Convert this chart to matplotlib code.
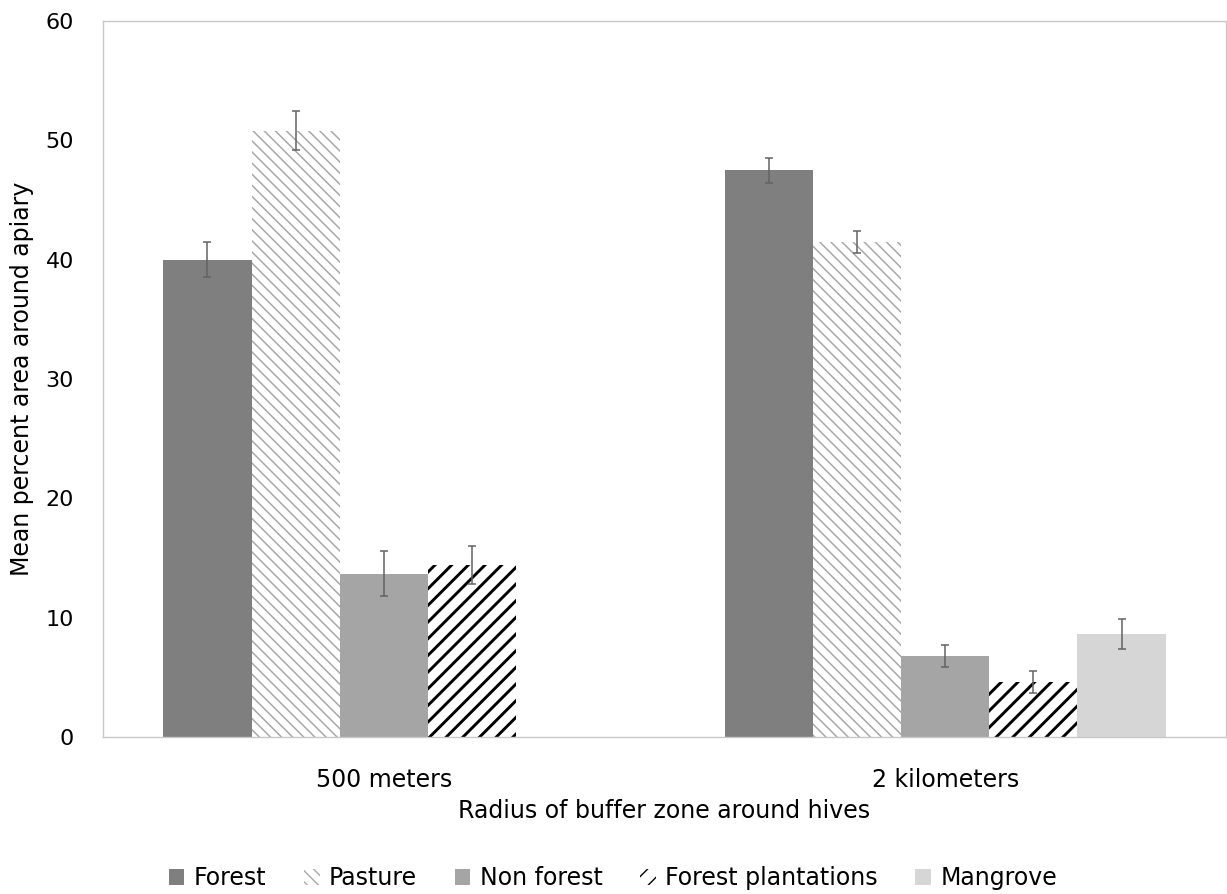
import numpy as np
import matplotlib
matplotlib.use("Agg")
import matplotlib.pyplot as plt
from matplotlib.patches import Patch

# mean percent land cover around apiaries, with error bars
radii = ["500 meters", "2 kilometers"]
classes = ["Forest", "Pasture", "Non forest", "Forest plantations", "Mangrove"]
means = {
    "Forest": [40.0, 47.5],
    "Pasture": [50.8, 41.5],
    "Non forest": [13.7, 6.8],
    "Forest plantations": [14.4, 4.6],
    "Mangrove": [np.nan, 8.6],
}
errors = {
    "Forest": [1.45, 1.05],
    "Pasture": [1.65, 0.9],
    "Non forest": [1.9, 0.9],
    "Forest plantations": [1.6, 0.9],
    "Mangrove": [np.nan, 1.25],
}

# fill colour, hatch, hatch colour, hatch line width (pt)
styles = {
    "Forest": ("#7f7f7f", "", "#7f7f7f", 1.0),
    "Pasture": ("white", "\\\\\\", "#a8a8a8", 1.1),
    "Non forest": ("#a5a5a5", "", "#a5a5a5", 1.0),
    "Forest plantations": ("white", "//", "black", 2.1),
    "Mangrove": ("#d6d6d6", "", "#d6d6d6", 1.0),
}

font = "DejaVu Sans"
label_size = 17
tick_size = 16

fig = plt.figure(figsize=(12.27, 8.94), dpi=100)
ax = fig.add_axes([103 / 1227, 1 - 737 / 894, (1226 - 103) / 1227, (737 - 21) / 894])

x = np.arange(len(radii))
width = 0.157
n = len(classes)
handles = []
for i, name in enumerate(classes):
    face, hatch, hcol, hlw = styles[name]
    pos = x + (i - (n - 1) / 2) * width
    vals = np.array(means[name], dtype=float)
    errs = np.array(errors[name], dtype=float)
    with plt.rc_context({"hatch.linewidth": hlw}):
        bars = ax.bar(pos, np.nan_to_num(vals), width, color=face, hatch=hatch,
                      edgecolor=hcol, linewidth=0, zorder=2)
        for b in bars:
            if hasattr(b, "set_hatch_linewidth"):
                b.set_hatch_linewidth(hlw)
        ax.errorbar(pos, vals, yerr=errs, fmt="none", ecolor="#636363",
                    elinewidth=1.1, capsize=3.2, capthick=1.1, zorder=3)
        h = Patch(facecolor=face, hatch=hatch, edgecolor=hcol, linewidth=0, label=name)
        if hasattr(h, "set_hatch_linewidth"):
            h.set_hatch_linewidth(hlw)
    handles.append(h)

ax.set_xlim(-0.5, 1.5)
ax.set_ylim(0, 60)
ax.set_yticks(range(0, 61, 10))
ax.set_xticks(x)
ax.set_xticklabels(radii, fontfamily=font, fontsize=label_size)
for lab in ax.get_yticklabels():
    lab.set_fontfamily(font)
    lab.set_fontsize(tick_size)
ax.tick_params(length=0)
ax.tick_params(axis="x", pad=22)
ax.tick_params(axis="y", pad=21)
for sp in ax.spines.values():
    sp.set_color("#c8c8c8")
    sp.set_linewidth(1.0)

ax.set_xlabel("Radius of buffer zone around hives", fontfamily=font,
              fontsize=label_size, labelpad=5)
ax.set_ylabel("Mean percent area around apiary", fontfamily=font,
              fontsize=label_size, labelpad=8)

fig.legend(handles=handles, loc="center", bbox_to_anchor=(613 / 1227, 1 - 878 / 894),
           ncol=5, frameon=False, handlelength=0.65, handleheight=0.65,
           handletextpad=0.4, columnspacing=1.6,
           prop={"family": font, "size": label_size})

fig.savefig("out.png", dpi=100)
